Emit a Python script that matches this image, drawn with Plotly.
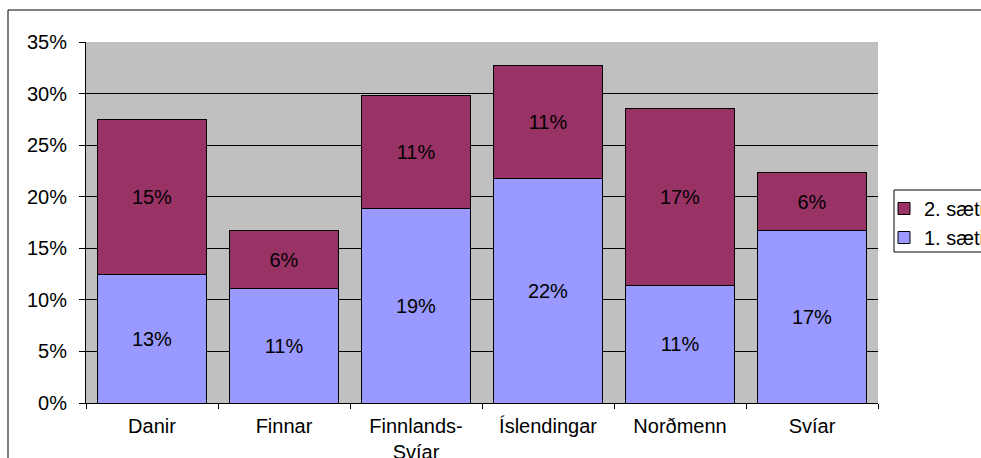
import plotly.graph_objects as go

categories = ["Danir", "Finnar", "Finnlands-<br>Svíar", "Íslendingar", "Norðmenn", "Svíar"]
first_place = [0.125, 0.111, 0.189, 0.218, 0.114, 0.167]
second_place = [0.150, 0.056, 0.109, 0.109, 0.172, 0.056]
series_names = ["1. sæti", "2. sæti"]
y_ticks = [0, 0.05, 0.10, 0.15, 0.20, 0.25, 0.30, 0.35]
y_tick_labels = ["0%", "5%", "10%", "15%", "20%", "25%", "30%", "35%"]

FONT = "Liberation Sans, Arial, sans-serif"
FS = 20

fig = go.Figure()
fig.add_trace(go.Bar(
    x=categories, y=first_place, name=series_names[0],
    marker=dict(color="#9999FF", line=dict(color="#000000", width=1)),
    texttemplate="%{y:.0%}", textposition="inside", insidetextanchor="middle",
    textfont=dict(color="#000000", size=FS, family=FONT), constraintext="none",
    hoverinfo="skip",
))
fig.add_trace(go.Bar(
    x=categories, y=second_place, name=series_names[1],
    marker=dict(color="#993366", line=dict(color="#000000", width=1)),
    texttemplate="%{y:.0%}", textposition="inside", insidetextanchor="middle",
    textfont=dict(color="#000000", size=FS, family=FONT), constraintext="none",
    hoverinfo="skip",
))

W, H = 981, 458
L, R, T, B = 86, 878, 42, 403
pw, ph = R - L, B - T

fig.update_layout(
    width=W, height=H,
    margin=dict(l=L, r=W - R, t=T, b=H - B, pad=0, autoexpand=False),
    barmode="stack", bargap=0.167,
    plot_bgcolor="#C0C0C0", paper_bgcolor="#FFFFFF",
    font=dict(family=FONT, size=FS, color="#000000"),
    showlegend=True,
    legend=dict(
        xref="container", yref="container",
        x=884 / W, y=1 - 189 / H, xanchor="left", yanchor="top",
        traceorder="reversed", borderwidth=0,
        bgcolor="rgba(0,0,0,0)", font=dict(size=FS, family=FONT),
        itemwidth=30, tracegroupgap=0,
    ),
    xaxis=dict(
        showline=True, linecolor="#000000", linewidth=1,
        ticks="outside", tickson="boundaries", ticklen=5, tickcolor="#000000",
        showgrid=False, tickfont=dict(size=FS, family=FONT),
        ticklabelstandoff=5, automargin=False,
    ),
    yaxis=dict(
        range=[0, 0.35], tickvals=y_ticks, ticktext=y_tick_labels,
        showline=True, linecolor="#000000", linewidth=1,
        ticks="outside", ticklen=6, tickcolor="#000000",
        showgrid=True, gridcolor="#000000", gridwidth=1,
        zeroline=False, tickfont=dict(size=FS, family=FONT),
        ticklabelstandoff=8, automargin=False,
    ),
    shapes=[
        dict(
            type="rect", xref="paper", yref="paper",
            x0=(8 - L) / pw, x1=(1000 - L) / pw,
            y0=(B - 470) / ph, y1=(B - 10) / ph,
            line=dict(color="#000000", width=1), fillcolor="rgba(0,0,0,0)", layer="above",
        ),
        dict(
            type="rect", xref="paper", yref="paper",
            x0=(894 - L) / pw, x1=(1000 - L) / pw,
            y0=(B - 252) / ph, y1=(B - 190) / ph,
            line=dict(color="#000000", width=1), fillcolor="rgba(0,0,0,0)", layer="above",
        ),
    ],
)

fig.write_html(
    "out.html",
    config={"displayModeBar": False},
    post_script="document.body.style.margin='0';document.body.style.padding='0';"
                "document.documentElement.style.overflow='hidden';",
)
